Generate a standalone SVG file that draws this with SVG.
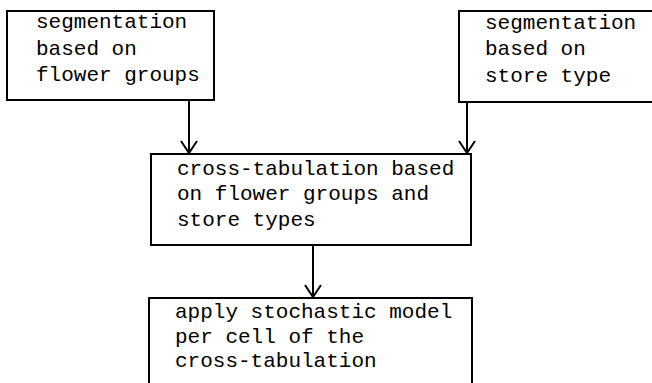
<svg xmlns="http://www.w3.org/2000/svg" width="652" height="383" viewBox="0 0 652 383">
<style>
.box{fill:none;stroke:#000;stroke-width:2}
.t{font-family:"Liberation Mono","Courier New",monospace;font-size:21px;fill:#000}
.c{fill:none;stroke:#000;stroke-width:2}
</style>
<defs>
<marker id="ah" markerWidth="20" markerHeight="20" refX="18" refY="10" orient="auto" markerUnits="userSpaceOnUse" viewBox="0 0 20 20">
<path d="M6,2 L18,10 L6,18" fill="none" stroke="#000" stroke-width="2"/>
</marker>
</defs>
<rect width="652" height="383" fill="#fff"/>
<g id="n1">
<rect class="box" x="7" y="11" width="207" height="89"/>
<text class="t" x="36" y="28">segmentation</text>
<text class="t" x="36" y="55">based on</text>
<text class="t" x="36" y="81">flower groups</text>
</g>
<g id="n2">
<path class="box" d="M660,11 H459 V102 H660"/>
<text class="t" x="485" y="29">segmentation</text>
<text class="t" x="485" y="55">based on</text>
<text class="t" x="485" y="82">store type</text>
</g>
<g id="n3">
<rect class="box" x="151" y="154" width="320" height="91"/>
<text class="t" x="177" y="175">cross-tabulation based</text>
<text class="t" x="177" y="200">on flower groups and</text>
<text class="t" x="177" y="226">store types</text>
</g>
<g id="n4">
<path class="box" d="M149,390 V298 H472 V390"/>
<text class="t" x="175" y="318">apply stochastic model</text>
<text class="t" x="175" y="343">per cell of the</text>
<text class="t" x="175" y="367">cross-tabulation</text>
</g>
<g id="connectors">
<line class="c" x1="189" y1="100" x2="189" y2="153" marker-end="url(#ah)"/>
<line class="c" x1="467" y1="102" x2="467" y2="153" marker-end="url(#ah)"/>
<line class="c" x1="313" y1="245" x2="313" y2="297" marker-end="url(#ah)"/>
</g>
</svg>
